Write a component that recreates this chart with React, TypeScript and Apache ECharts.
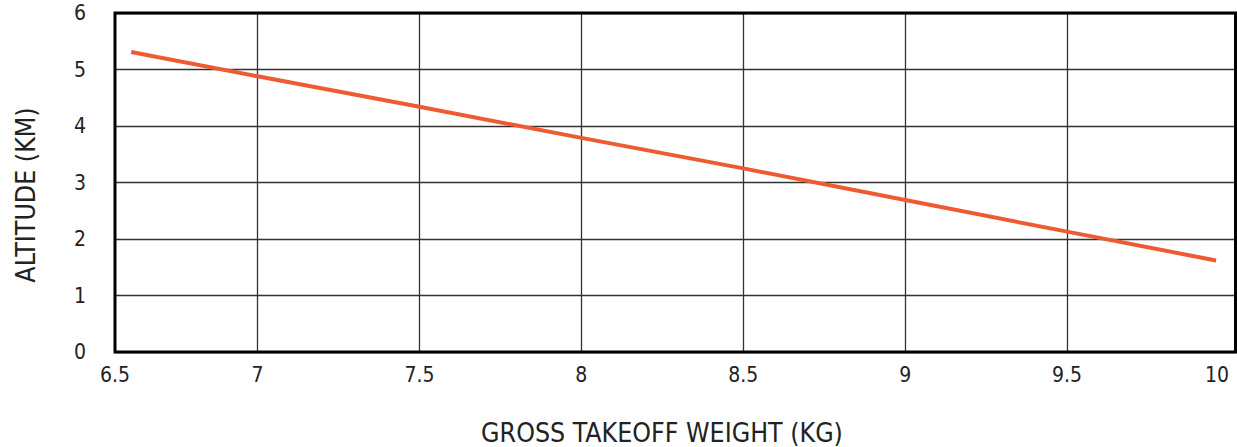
import React, { useEffect, useRef } from "react";
import * as echarts from "echarts";

const weightKg = [6.61, 7, 7.5, 8, 8.5, 9, 9.5, 9.96];
const altitudeKm = [5.31, 4.88, 4.34, 3.79, 3.25, 2.69, 2.13, 1.62];
const xTickValues = [7, 7.5, 8, 8.5, 9, 9.5];
const xLabelValues = [6.56, 7, 7.5, 8, 8.5, 9, 9.5, 10];
const xLabelTexts = ["6.5", "7", "7.5", "8", "8.5", "9", "9.5", "10"];
const xAxisTitle = "GROSS TAKEOFF WEIGHT (KG)";
const yAxisTitle = "ALTITUDE (KM)";

const FONT = "'DejaVu Sans Condensed', 'Liberation Sans Narrow', 'Roboto', sans-serif";

export default function App() {
  const ref = useRef<HTMLDivElement>(null);
  useEffect(() => {
    document.body.style.margin = "0";
    const chart = echarts.init(ref.current!, null, { renderer: "svg" });
    chart.setOption({
      animation: false,
      backgroundColor: "#fff",
      grid: {
        left: 115,
        right: 1.5,
        top: 13,
        bottom: 95,
        show: true,
        borderColor: "#000",
        borderWidth: 3,
        z: 5,
        outerBoundsMode: "none",
        containLabel: false,
      },
      xAxis: {
        type: "value",
        min: 6.56,
        max: 10.02,
        axisLine: { show: false },
        axisTick: { show: false, customValues: xTickValues },
        splitLine: { show: true, lineStyle: { color: "#333", width: 1.3 } },
        axisLabel: {
          customValues: xLabelValues,
          margin: 12,
          color: "#222",
          fontSize: 21,
          fontFamily: FONT,
          alignMaxLabel: "right",
          formatter: (v: number) => {
            const i = xLabelValues.findIndex((x) => Math.abs(x - v) < 1e-6);
            return i >= 0 ? xLabelTexts[i] : "";
          },
        },
      },
      yAxis: {
        type: "value",
        min: 0,
        max: 6,
        interval: 1,
        axisLine: { show: false },
        axisTick: { show: false },
        splitLine: { show: true, lineStyle: { color: "#333", width: 1.3 } },
        axisLabel: { margin: 29, color: "#222", fontSize: 21, fontFamily: FONT },
      },
      graphic: [
        {
          type: "text",
          x: 662,
          y: 432,
          style: {
            text: xAxisTitle,
            fill: "#222",
            font: `26.5px ${FONT}`,
            align: "center",
            verticalAlign: "middle",
          },
        },
        {
          type: "text",
          x: 25,
          y: 195,
          rotation: Math.PI / 2,
          style: {
            text: yAxisTitle,
            fill: "#222",
            font: `26.5px ${FONT}`,
            align: "center",
            verticalAlign: "middle",
          },
        },
      ],
      series: [
        {
          type: "line",
          data: weightKg.map((w, i) => [w, altitudeKm[i]]),
          showSymbol: false,
          lineStyle: { color: "#EE5A32", width: 4 },
          z: 3,
        },
      ],
    });
    return () => chart.dispose();
  }, []);
  return <div ref={ref} style={{ width: 1237, height: 447 }} />;
}
